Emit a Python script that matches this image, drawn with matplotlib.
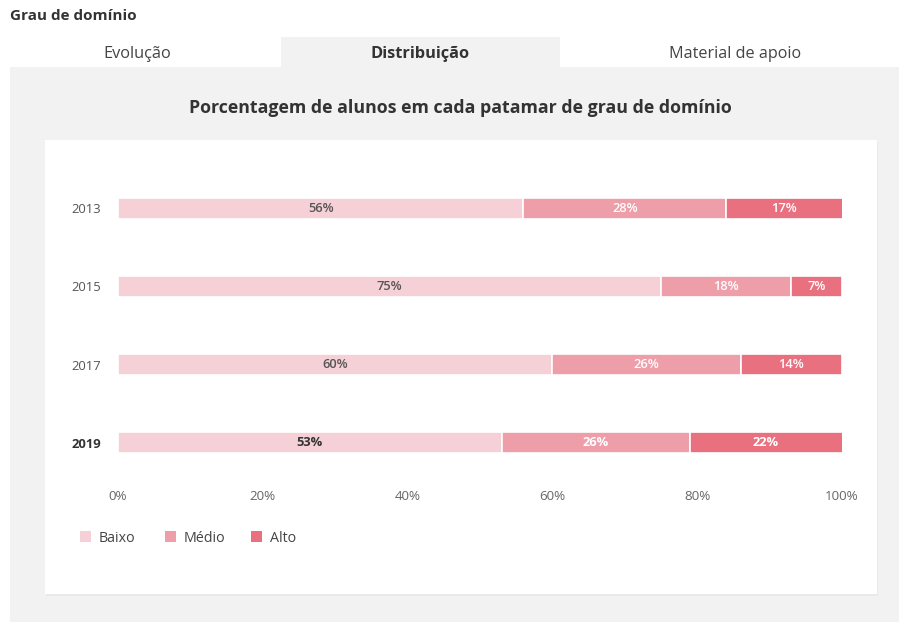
import matplotlib.pyplot as plt
from matplotlib.patches import Rectangle
import numpy as np

plt.rcParams['font.family'] = ['Open Sans', 'DejaVu Sans']

anos = ['2013', '2015', '2017', '2019']
baixo = [56, 75, 60, 53]
medio = [28, 18, 26, 26]
alto = [17, 7, 14, 22]
niveis = ['Baixo', 'Médio', 'Alto']
cores = ['#f5d0d6', '#ee9ea8', '#e8707f']
ticks = [0, 20, 40, 60, 80, 100]

W, H = 899, 622
fig = plt.figure(figsize=(W / 100, H / 100), dpi=100)
fig.patch.set_facecolor('white')

# background layer in pixel coordinates
bg = fig.add_axes([0, 0, 1, 1], zorder=0)
bg.set_xlim(0, W)
bg.set_ylim(H, 0)
bg.axis('off')

painel = '#f2f2f2'
bg.add_patch(Rectangle((10, 67), W - 10, H - 67, color=painel, lw=0))
bg.add_patch(Rectangle((281, 37), 279, 31, color=painel, lw=0))
bg.add_patch(Rectangle((46, 142), 832, 454, color='#e9e9e9', lw=0))
bg.add_patch(Rectangle((45, 140), 832, 454, color='white', lw=0))

bg.text(10, 16, 'Grau de domínio', fontsize=11, fontweight='bold',
        color='#333333', va='center', ha='left')
bg.text(137, 54, 'Evolução', fontsize=11.8, color='#444444', ha='center', va='center')
bg.text(420, 54, 'Distribuição', fontsize=11.8, fontweight='bold', color='#333333',
        ha='center', va='center')
bg.text(735, 54, 'Material de apoio', fontsize=11.6, color='#444444',
        ha='center', va='center')
bg.text(460, 108, 'Porcentagem de alunos em cada patamar de grau de domínio',
        fontsize=12.8, fontweight='bold', color='#333333', ha='center', va='center')

# legend
for i, (nome, cor) in enumerate(zip(niveis, cores)):
    x0 = [80, 165, 251][i]
    bg.add_patch(Rectangle((x0, 531), 11, 11, color=cor, lw=0))
    bg.text(x0 + 19, 538, nome, fontsize=10.3, color='#444444', va='center', ha='left')

# bar chart
top_px, bot_px = 170, 480
passo = 78.3
ax = fig.add_axes([118 / W, 1 - bot_px / H, (842 - 118) / W, (bot_px - top_px) / H],
                  zorder=1)
ax.patch.set_alpha(0)
y = np.arange(len(anos))
altura = 21 / passo

esquerda = np.zeros(len(anos))
for serie, nome, cor in zip([baixo, medio, alto], niveis, cores):
    barras = ax.barh(y, serie, left=esquerda, height=altura, color=cor,
                     edgecolor='white', linewidth=1.2, label=nome)
    cor_txt = '#555555' if nome == 'Baixo' else 'white'
    rotulos = ax.bar_label(barras, labels=[f'{v}%' for v in serie],
                           label_type='center', fontsize=9.3, color=cor_txt,
                           fontweight='semibold')
    rotulos[-1].set_color('#333333' if nome == 'Baixo' else 'white')
    rotulos[-1].set_fontweight('bold')
    esquerda += np.array(serie)

ax.set_xlim(0, 100)
ax.set_ylim((bot_px - 208) / passo, (top_px - 208) / passo)
ax.set_yticks(y)
ax.set_yticklabels(anos, fontsize=9.4, color='#555555')
ax.get_yticklabels()[-1].set_fontweight('bold')
ax.get_yticklabels()[-1].set_color('#333333')
ax.set_xticks(ticks)
ax.set_xticklabels([f'{t}%' for t in ticks], fontsize=9.6, color='#666666')
ax.tick_params(axis='y', length=0, pad=12)
ax.tick_params(axis='x', length=0, pad=7)
for s in ax.spines.values():
    s.set_visible(False)

fig.savefig('out.png', dpi=100, facecolor='white')
